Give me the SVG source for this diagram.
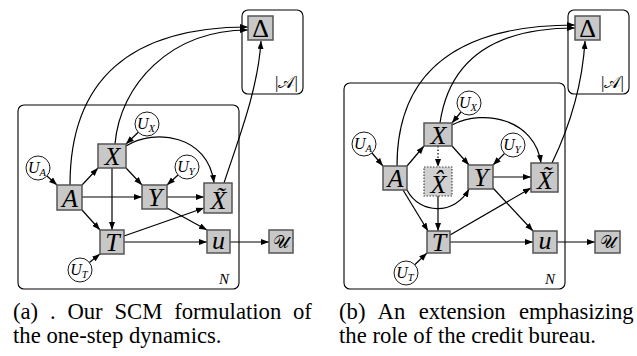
<svg xmlns="http://www.w3.org/2000/svg" width="637" height="356" viewBox="0 0 637 356">
<style>
.plate{fill:none;stroke:#000;stroke-width:1.1}
.box{fill:#c8c8c8;stroke:#555;stroke-width:1.5}
.dbox{fill:#d0d0d0;stroke:#444;stroke-width:1.2;stroke-dasharray:1.5 1.5}
.circ{fill:#fff;stroke:#000;stroke-width:0.9}
text{font-family:'Liberation Serif','Times New Roman','DejaVu Serif',serif;fill:#000}
.lbl{font-style:italic;font-size:26px;text-anchor:middle}
.up{font-style:normal;font-weight:normal}
.cal{font-style:normal;font-size:18px}
.ulbl{font-style:italic;font-size:16px;text-anchor:middle}
.sub{font-size:10.5px}
.plbl{font-style:italic;font-size:15px}
.alab{font-style:normal;font-size:17px}
.cap{font-size:22.7px}
.e{fill:none;stroke:#000;stroke-width:1.2;marker-end:url(#ah)}
.dot{stroke-dasharray:1.5 2}
</style>
<defs>
<marker id="ah" markerUnits="userSpaceOnUse" markerWidth="9" markerHeight="7" refX="8" refY="3" orient="auto">
<path d="M0,0 L8,3 L0,6 z" fill="#000"/>
</marker>
</defs>

<!-- Panel (a) plates -->
<g id="a-plates">
<rect class="plate" x="242" y="10" width="61" height="84" rx="6"/>
<text class="plbl alab" x="275" y="88">|𝒜|</text>
<rect class="plate" x="18" y="105" width="221" height="184" rx="6"/>
<text class="plbl" x="219" y="284">N</text>
</g>

<g id="a-edges">
<line class="e" x1="47" y1="176" x2="57" y2="185"/>
<line class="e" x1="82" y1="185" x2="98" y2="168"/>
<line class="e" x1="82" y1="197" x2="142" y2="197"/>
<line class="e" x1="82" y1="210" x2="100" y2="230"/>
<path class="e" d="M70,185 C70,80 130,27 248,27"/>
<path class="e" d="M115,144 C120,85 170,30 248,30"/>
<path class="e" d="M224,183 C238,140 258,90 261,41"/>
<path class="e" d="M126,146 C155,128 208,135 214,183"/>
<line class="e" x1="138.3" y1="132.3" x2="126" y2="144"/>
<line class="e" x1="126" y1="168" x2="142" y2="185"/>
<line class="e" x1="112" y1="168" x2="112" y2="230"/>
<line class="e" x1="178" y1="175" x2="167" y2="185"/>
<line class="e" x1="167" y1="197" x2="204" y2="197"/>
<line class="e" x1="167" y1="208" x2="207" y2="230"/>
<line class="e" x1="124" y1="236" x2="204" y2="208"/>
<line class="e" x1="124" y1="242" x2="207" y2="242"/>
<line class="e" x1="230" y1="242" x2="269" y2="242"/>
<line class="e" x1="89.4" y1="262.5" x2="100" y2="254"/>
</g>

<g id="a-Delta"><rect class="box" x="248" y="16" width="25" height="24"/><text class="lbl up" x="260.5" y="37">Δ</text></g>
<g id="a-A"><rect class="box" x="57" y="185" width="25" height="25"/><text class="lbl" x="70" y="206.5">A</text></g>
<g id="a-X"><rect class="box" x="98" y="144" width="28" height="24"/><text class="lbl" x="112.5" y="165">X</text></g>
<g id="a-Y"><rect class="box" x="142" y="185" width="25" height="24"/><text class="lbl" x="155" y="206">Y</text></g>
<g id="a-Xt"><rect class="box" x="204" y="183" width="28" height="30"/><text class="lbl" x="218.5" y="209">X̃</text></g>
<g id="a-T"><rect class="box" x="100" y="230" width="24" height="24"/><text class="lbl" x="112.5" y="251">T</text></g>
<g id="a-u"><rect class="box" x="207" y="230" width="23" height="23"/><text class="lbl" x="218.5" y="249">u</text></g>
<g id="a-U"><rect class="box" x="269" y="230" width="24" height="23"/><text class="lbl cal" x="281" y="248">𝒰</text></g>
<g id="a-UA"><circle class="circ" cx="38" cy="168" r="12"/><text class="ulbl" x="37" y="173">U<tspan class="sub" dy="3">A</tspan></text></g>
<g id="a-UX"><circle class="circ" cx="147" cy="124" r="12"/><text class="ulbl" x="146" y="129">U<tspan class="sub" dy="3">X</tspan></text></g>
<g id="a-UY"><circle class="circ" cx="187" cy="167" r="12"/><text class="ulbl" x="186" y="172">U<tspan class="sub" dy="3">Y</tspan></text></g>
<g id="a-UT"><circle class="circ" cx="80" cy="270" r="12"/><text class="ulbl" x="79" y="275">U<tspan class="sub" dy="3">T</tspan></text></g>

<text class="cap" x="13" y="319" word-spacing="6.1">(a) . Our SCM formulation of</text>
<text class="cap" x="13" y="343">the one-step dynamics.</text>

<!-- Panel (b) -->
<g id="b-plates">
<rect class="plate" x="568" y="10" width="61" height="84" rx="6"/>
<text class="plbl alab" x="601" y="88">|𝒜|</text>
<rect class="plate" x="344" y="83" width="221" height="206" rx="6"/>
<text class="plbl" x="545" y="284">N</text>
</g>

<g id="b-edges">
<line class="e" x1="372" y1="153" x2="383" y2="166"/>
<line class="e" x1="407" y1="166" x2="424" y2="146"/>
<path class="e" d="M407,190 C420,215 455,215 469,189"/>
<line class="e" x1="403" y1="190" x2="428" y2="231"/>
<path class="e" d="M397,166 C397,70 460,25 575,25"/>
<path class="e" d="M440,123 C450,55 500,28 575,28"/>
<path class="e" d="M552,163 C568,130 582,90 585,41"/>
<path class="e" d="M452,125 C485,108 535,120 541,163"/>
<line class="e" x1="461" y1="112" x2="452" y2="123"/>
<line class="e dot" x1="438" y1="146" x2="438" y2="167"/>
<line class="e" x1="452" y1="146" x2="469" y2="165"/>
<line class="e" x1="504.5" y1="153.5" x2="493" y2="165"/>
<line class="e" x1="493" y1="177" x2="531" y2="177"/>
<line class="e" x1="438" y1="196" x2="438" y2="231"/>
<line class="e" x1="493" y1="188" x2="533" y2="231"/>
<line class="e" x1="450" y1="235" x2="531" y2="188"/>
<line class="e" x1="450" y1="242" x2="533" y2="242"/>
<line class="e" x1="557" y1="242" x2="595" y2="242"/>
<line class="e" x1="414.7" y1="264.7" x2="427" y2="253"/>
</g>

<g id="b-Delta"><rect class="box" x="575" y="16" width="25" height="24"/><text class="lbl up" x="587.5" y="37">Δ</text></g>
<g id="b-A"><rect class="box" x="383" y="166" width="24" height="24"/><text class="lbl" x="395.5" y="187">A</text></g>
<g id="b-X"><rect class="box" x="424" y="123" width="28" height="23"/><text class="lbl" x="438.5" y="143.5">X</text></g>
<g id="b-Xh"><rect class="dbox" x="424" y="167" width="28" height="29"/><text class="lbl" x="438.5" y="192.5">X̂</text></g>
<g id="b-Y"><rect class="box" x="468" y="165" width="25" height="24"/><text class="lbl" x="481" y="186">Y</text></g>
<g id="b-Xt"><rect class="box" x="531" y="163" width="27" height="29"/><text class="lbl" x="545" y="188.5">X̃</text></g>
<g id="b-T"><rect class="box" x="427" y="231" width="23" height="22"/><text class="lbl" x="439" y="251">T</text></g>
<g id="b-u"><rect class="box" x="533" y="231" width="24" height="22"/><text class="lbl" x="545" y="249">u</text></g>
<g id="b-U"><rect class="box" x="595" y="231" width="25" height="22"/><text class="lbl cal" x="607.5" y="248">𝒰</text></g>
<g id="b-UA"><circle class="circ" cx="364" cy="144" r="12"/><text class="ulbl" x="363" y="149">U<tspan class="sub" dy="3">A</tspan></text></g>
<g id="b-UX"><circle class="circ" cx="469" cy="103" r="12"/><text class="ulbl" x="468" y="108">U<tspan class="sub" dy="3">X</tspan></text></g>
<g id="b-UY"><circle class="circ" cx="513" cy="145" r="12"/><text class="ulbl" x="512" y="150">U<tspan class="sub" dy="3">Y</tspan></text></g>
<g id="b-UT"><circle class="circ" cx="406" cy="273" r="12"/><text class="ulbl" x="405" y="278">U<tspan class="sub" dy="3">T</tspan></text></g>

<text class="cap" x="339" y="319" word-spacing="7.7">(b) An extension emphasizing</text>
<text class="cap" x="339" y="343">the role of the credit bureau.</text>
</svg>
